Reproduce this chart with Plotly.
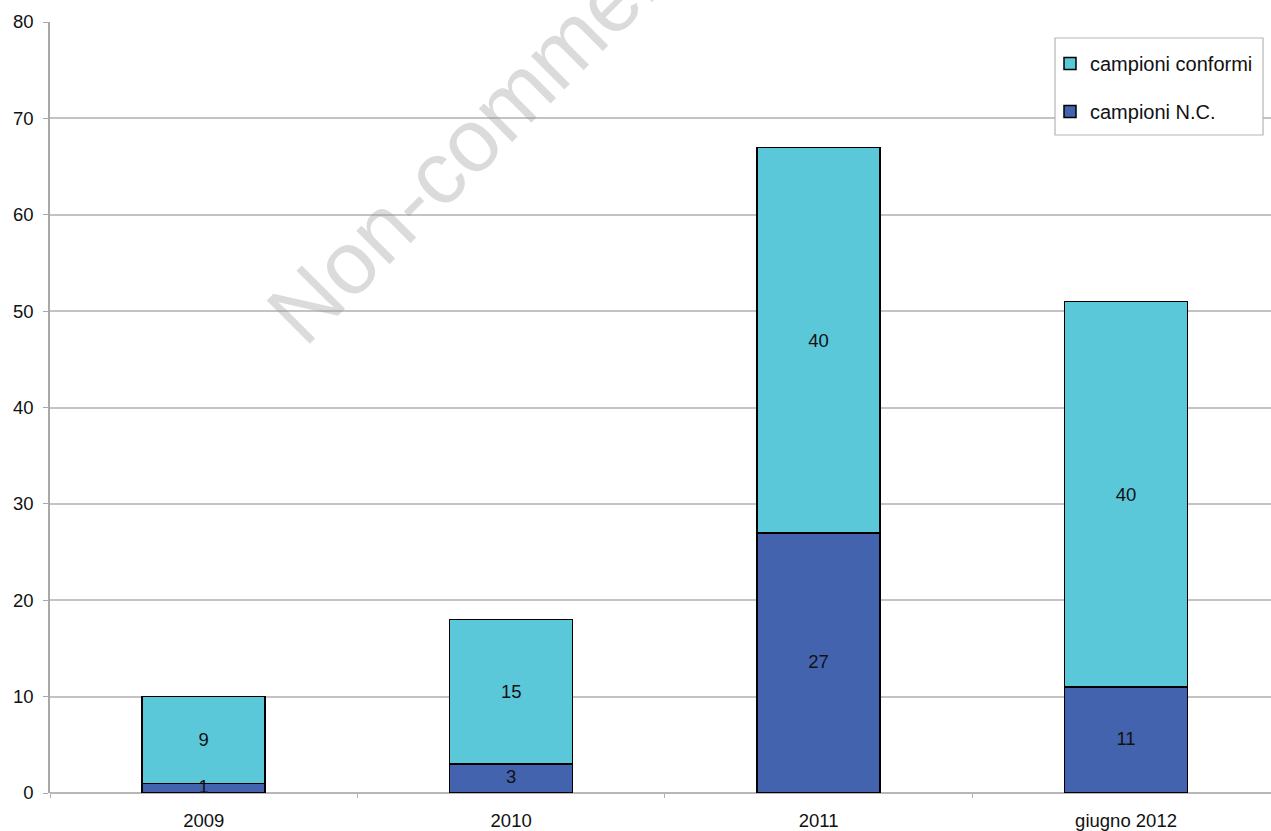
import plotly.graph_objects as go

categories = ["2009", "2010", "2011", "giugno 2012"]
nc_values = [1, 3, 27, 11]
conformi_values = [9, 15, 40, 40]
series_names = ["campioni N.C.", "campioni conformi"]
y_ticks = [0, 10, 20, 30, 40, 50, 60, 70, 80]

FONT = "Liberation Sans, Arial, sans-serif"
FS = 18.5
W, H = 1271, 831
ML, MR, MT, MB = 50, 0, 22, 38
plot_w = W - ML - MR
plot_h = H - MT - MB


def px_x(px):
    return (px - ML) / plot_w


def px_y(py):
    return (H - MB - py) / plot_h


fig = go.Figure()
fig.add_trace(go.Bar(
    x=categories, y=nc_values, name=series_names[0],
    marker=dict(color="#4463AE", line=dict(color="#000000", width=1.5)),
    width=0.4, legendgroup="nc", legendrank=2,
))
fig.add_trace(go.Bar(
    x=categories, y=conformi_values, name=series_names[1],
    marker=dict(color="#5BC8DA", line=dict(color="#000000", width=1.5)),
    width=0.4, text=conformi_values, textposition="inside", insidetextanchor="middle",
    textangle=0, textfont=dict(family=FONT, size=FS, color="#111111"),
    constraintext="none", cliponaxis=False,
    legendgroup="conf", legendrank=1,
))
# labels of the N.C. segments, drawn on top so the small ones stay visible
fig.add_trace(go.Scatter(
    x=categories, y=[v / 2 for v in nc_values], text=[str(v) for v in nc_values],
    mode="text", textposition="middle center",
    textfont=dict(family=FONT, size=FS, color="#111111"),
    showlegend=False, hoverinfo="skip", cliponaxis=False,
))

fig.update_layout(
    width=W, height=H,
    margin=dict(l=ML, r=MR, t=MT, b=MB, pad=0),
    barmode="stack",
    plot_bgcolor="white", paper_bgcolor="white",
    font=dict(family=FONT, size=FS, color="#111111"),
    uniformtext=dict(minsize=FS, mode="show"),
    showlegend=True,
    legend=dict(
        x=px_x(1050), y=px_y(44),
        xanchor="left", yanchor="top",
        bgcolor="rgba(0,0,0,0)", borderwidth=0,
        font=dict(family=FONT, size=20, color="#111111"),
        traceorder="grouped", tracegroupgap=19,
        itemwidth=30,
    ),
    xaxis=dict(
        type="category", range=[-0.5, 3.4715],
        showgrid=False, showline=False, zeroline=False,
        ticks="outside", tickson="boundaries", ticklen=4, tickcolor="#b0b0b0",
        tickfont=dict(family=FONT, size=FS, color="#111111"),
        ticklabelstandoff=14,
        fixedrange=True,
    ),
    yaxis=dict(
        range=[0, 80], tickvals=y_ticks,
        showgrid=True, gridcolor="#c4c2c2", gridwidth=1.5,
        showline=True, linecolor="#a8a8a8", linewidth=1.5,
        zeroline=True, zerolinecolor="#b8b6b6", zerolinewidth=1.5,
        ticks="outside", ticklen=5, tickcolor="#a8a8a8",
        tickfont=dict(family=FONT, size=FS, color="#111111"),
        ticklabelstandoff=6,
        fixedrange=True,
    ),
)

# legend frame
fig.add_shape(
    type="rect", xref="paper", yref="paper",
    x0=px_x(1055), x1=px_x(1263), y0=px_y(135), y1=px_y(38),
    fillcolor="white", line=dict(color="#b5b5b5", width=1.2), layer="above",
)

# watermark
fig.add_annotation(
    text="Non-commercial", xref="paper", yref="paper",
    x=px_x(512), y=px_y(98),
    xanchor="center", yanchor="middle", textangle=-45, showarrow=False,
    font=dict(family=FONT, size=89, color="rgba(150,150,150,0.34)"),
)

fig.write_html("out.html")
